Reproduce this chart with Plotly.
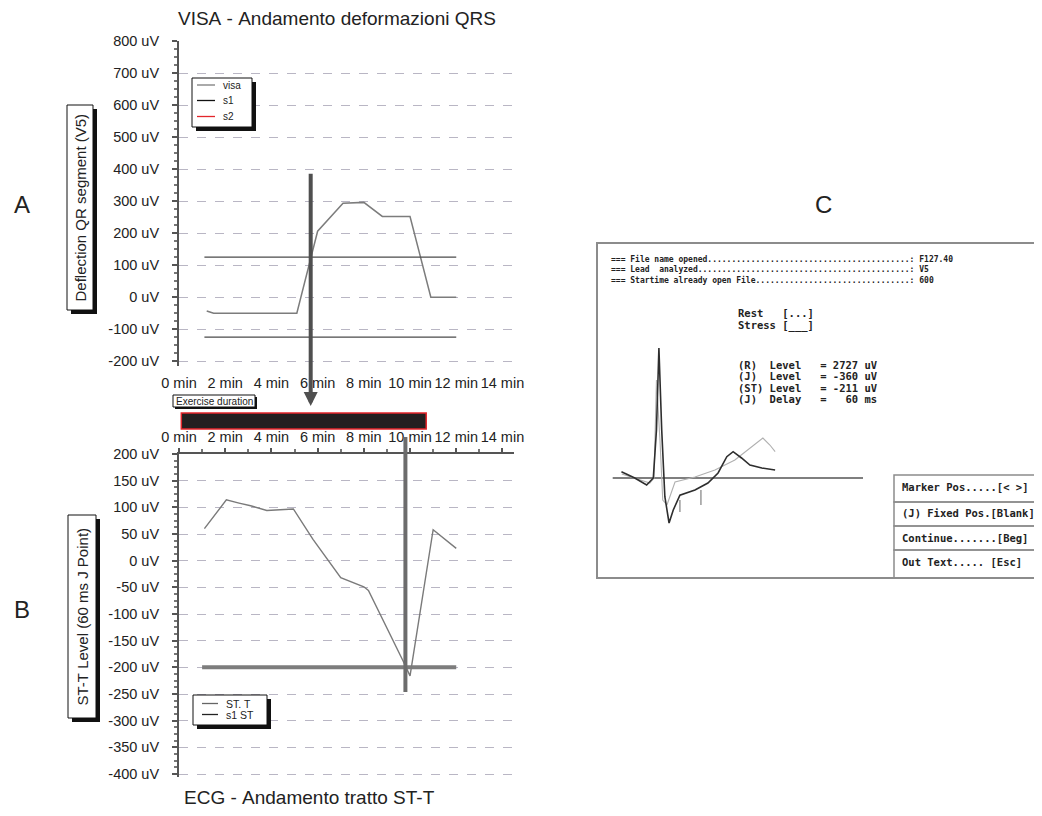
import plotly.graph_objects as go

W, H = 1042, 816
OX, OY = 8, 8  # page body margin in the viewer

# ---------------- Panel A: VISA QRS deflection ----------------
visa_min = [1.2, 1.5, 5.1, 6.0, 7.1, 8.0, 8.8, 10.0, 10.9, 12.0]
visa_uv = [-43, -50, -50, 206, 293, 296, 252, 252, 0, 0]
s1_min = [1.1, 12.0]
s1_upper_uv = 125
s1_lower_uv = -125
marker_a_min = 5.7
marker_a_top_uv = 390

# ---------------- Panel B: ST-T level ----------------
st_min = [1.1, 2.05, 2.6, 3.1, 3.8, 4.95, 5.8, 7.0, 8.0, 8.2, 9.7, 10.0, 11.0, 12.0]
st_uv = [60, 114, 108, 103, 94, 97, 40, -32, -49, -56, -188, -216, 58, 23]
s1st_min = [1.0, 12.0]
s1st_uv = -200
marker_b_min = 9.8

exercise_min = [0.1, 10.7]

minute_ticks = list(range(0, 15, 2))
minute_text = [f"{m} min" for m in minute_ticks]
a_ticks = list(range(-200, 801, 100))
a_text = [f"{v} uV" for v in a_ticks]
b_ticks = list(range(-400, 201, 50))
b_text = [f"{v} uV" for v in b_ticks]

# ---------------- Panel C: averaged ECG beat ----------------
beat_ms = [-107, -69, -35, -16, -7, 0, 8, 17, 29, 41, 60, 103, 140, 169, 194, 212, 236, 260, 294, 332]
beat_uv = [132, 0, -147, 0, 1008, 2727, 1008, -393, -945, -672, -360, -252, -105, 105, 447, 552, 420, 273, 210, 168]
ref_ms = [-106, -26, -14, -7, 3, 11, 23, 46, 103, 160, 217, 265, 297, 317, 332]
ref_uv = [84, -105, 0, 2058, 800, -462, -567, -84, 21, 168, 378, 657, 840, 693, 552]
baseline_ms = [-132, 583]
j_marks_ms = [60, 120]
j_marks_low_uv = [-714, -567]
j_marks_high_uv = [-462, -252]

file_info = [
    ("=== File name opened", "F127.40"),
    ("=== Lead  analyzed", "V5"),
    ("=== Startime already open File", "600"),
]
state_lines = ["Rest   [...]", "Stress [___]"]
level_lines = [
    "(R)  Level   = 2727 uV",
    "(J)  Level   = -360 uV",
    "(ST) Level   = -211 uV",
    "(J)  Delay   =   60 ms",
]
menu_lines = [
    "Marker Pos.....[< >]",
    "(J) Fixed Pos.[Blank]",
    "Continue.......[Beg]",
    "Out Text..... [Esc]",
]


def px(x):
    return (x - OX) / W


def py(y):
    return 1 - (y - OY) / H


def nb(s):
    return s.replace(" ", "\u00a0")


SANS = "Liberation Sans, Arial, sans-serif"
MONO = "DejaVu Sans Mono, monospace"
GRID = "#b9b6c4"
AX = "#555555"

fig = go.Figure()

# Panel A traces
fig.add_trace(go.Scatter(x=visa_min, y=visa_uv, mode="lines", xaxis="x", yaxis="y",
                         line=dict(color="#7c7c7c", width=1.5), name="visa"))
fig.add_trace(go.Scatter(x=s1_min + [None] + s1_min,
                         y=[s1_upper_uv] * 2 + [None] + [s1_lower_uv] * 2,
                         mode="lines", xaxis="x", yaxis="y",
                         line=dict(color="#4a4a4a", width=1.3), name="s1"))

# Panel B traces
fig.add_trace(go.Scatter(x=s1st_min, y=[s1st_uv] * 2, mode="lines", xaxis="x2", yaxis="y2",
                         line=dict(color="#7d7d7d", width=4), name="s1 ST"))
fig.add_trace(go.Scatter(x=st_min, y=st_uv, mode="lines", xaxis="x2", yaxis="y2",
                         line=dict(color="#7a7a7a", width=1.4), name="ST. T"))

# Panel C traces
fig.add_trace(go.Scatter(x=baseline_ms, y=[0, 0], mode="lines", xaxis="x3", yaxis="y3",
                         line=dict(color="#555555", width=1.5)))
fig.add_trace(go.Scatter(x=ref_ms, y=ref_uv, mode="lines", xaxis="x3", yaxis="y3",
                         line=dict(color="#b0b0b0", width=1.1)))
fig.add_trace(go.Scatter(x=beat_ms, y=beat_uv, mode="lines", xaxis="x3", yaxis="y3",
                         line=dict(color="#2e2e2e", width=1.6)))
jx, jy = [], []
for t, lo, hi in zip(j_marks_ms, j_marks_low_uv, j_marks_high_uv):
    jx += [t, t, None]
    jy += [lo, hi, None]
fig.add_trace(go.Scatter(x=jx, y=jy, mode="lines", xaxis="x3", yaxis="y3",
                         line=dict(color="#9a9a9a", width=1.5)))

shapes = []
annotations = []


def rect(x0, y0, x1, y1, fill, line_color="black", lw=1):
    shapes.append(dict(type="rect", xref="paper", yref="paper",
                       x0=px(x0), x1=px(x1), y0=py(y1), y1=py(y0),
                       fillcolor=fill, line=dict(color=line_color, width=lw), layer="above"))


def boxed(x0, y0, x1, y1, off=4):
    rect(x0 + off, y0 + off, x1 + off, y1 + off, "#111111", "#111111", 0)
    rect(x0, y0, x1, y1, "white", "#111111", 1)


def hline(x0, x1, y, color, w):
    shapes.append(dict(type="line", xref="paper", yref="paper",
                       x0=px(x0), x1=px(x1), y0=py(y), y1=py(y),
                       line=dict(color=color, width=w), layer="above"))


def text(x, y, s, size, font=SANS, xanchor="center", color="#222222", angle=0, bold=False):
    annotations.append(dict(x=px(x), y=py(y), xref="paper", yref="paper", text=nb(s),
                            showarrow=False, xanchor=xanchor, yanchor="middle", align="left",
                            textangle=angle, borderpad=0,
                            font=dict(size=size, family=font, color=color,
                                      weight="bold" if bold else "normal")))


# Exercise duration bar (in minutes on panel A axis)
shapes.append(dict(type="rect", xref="x", yref="paper",
                   x0=exercise_min[0], x1=exercise_min[1], y0=py(429), y1=py(413),
                   fillcolor="#231f20", line=dict(color="#e3262b", width=1.5), layer="above"))
boxed(173, 395, 255, 407, off=2)
text(214, 401, "Exercise duration", 10)

# Marker B vertical line
shapes.append(dict(type="line", xref="x2", yref="paper",
                   x0=marker_b_min, x1=marker_b_min, y0=py(692), y1=py(437),
                   line=dict(color="#6c6c6c", width=4), layer="above"))

# Marker A with arrow (tail at marker_a_top_uv on panel A scale)
a_top_px, a_bot_px, a_lo, a_hi = 41, 366, -215, 800
tail_px = a_top_px + (a_hi - marker_a_top_uv) / (a_hi - a_lo) * (a_bot_px - a_top_px)
head_px = 406
annotations.append(dict(x=marker_a_min, y=py(head_px), xref="x", yref="paper", text="",
                        showarrow=True, ax=0, ay=tail_px - head_px, axref="pixel", ayref="pixel",
                        arrowhead=2, arrowsize=0.7, arrowwidth=4, arrowcolor="#4f4f4f",
                        standoff=0, startstandoff=0))

# Legends
boxed(192, 78, 252, 127)
leg_a = [("visa", "#7c7c7c", 85), ("s1", "#111111", 100.5), ("s2", "#e3262b", 116.5)]
for name, col, yy in leg_a:
    hline(197, 215, yy, col, 1.3)
    text(222, yy, name, 10, xanchor="left")

boxed(193, 695, 267, 725)
leg_b = [("ST. T", "#666666", 703.5), ("s1 ST", "#222222", 714.5)]
for name, col, yy in leg_b:
    hline(202, 218, yy, col, 1.3)
    text(225, yy, name, 10.5, xanchor="left")

# Y-axis titles in shadowed boxes
boxed(67, 105, 93, 310)
text(80, 207.5, "Deflection QR segment (V5)", 15, angle=-90)
boxed(68, 515, 96, 718)
text(82, 616.5, "ST-T Level (60 ms J Point)", 15, angle=-90)

# Titles and panel letters
text(337, 19, "VISA - Andamento deformazioni QRS", 19)
text(309, 797, "ECG - Andamento tratto ST-T", 19)
text(22, 204, "A", 24)
text(22, 609, "B", 24)
text(823, 204, "C", 24)

# Panel C frame and menu
rect(597, 243, 1060, 578, "rgba(0,0,0,0)", "#8c8c8c", 2)
for y0, y1 in [(475, 502), (502, 526), (526, 550), (550, 578)]:
    rect(894, y0, 1060, y1, "rgba(0,0,0,0)", "#8c8c8c", 1.5)

info_rows = []
for label, val in file_info:
    dots = "." * (62 - len(label))
    info_rows.append(nb(f"{label}{dots}: {val}"))
annotations.append(dict(x=px(610), y=py(269.5), xref="paper", yref="paper",
                        text="<br>".join(info_rows), showarrow=False,
                        xanchor="left", yanchor="middle", align="left", borderpad=0,
                        font=dict(size=8, family=MONO, color="#222222", weight="bold")))
for i, s in enumerate(state_lines):
    text(737, 313 + i * 13, s, 10.5, font=MONO, xanchor="left", bold=True)
for i, s in enumerate(level_lines):
    text(737, 364.5 + i * 11.5, s, 10.5, font=MONO, xanchor="left", bold=True)
for s, yy in zip(menu_lines, [487, 513, 538, 562]):
    text(901, yy, s, 10.5, font=MONO, xanchor="left", bold=True)

tick_font = dict(size=14.5, family=SANS, color="#222222")

fig.update_layout(
    template="none",
    width=W, height=H,
    margin=dict(l=0, r=0, t=0, b=0, pad=0, autoexpand=False),
    paper_bgcolor="white", plot_bgcolor="white",
    showlegend=False, hovermode=False,
    shapes=shapes, annotations=annotations,
    xaxis=dict(domain=[px(179), px(514)], range=[0, 14.5], anchor="y", automargin=False,
               tickmode="array", tickvals=minute_ticks, ticktext=minute_text, tickangle=0,
               showline=False, ticks="", showgrid=False, zeroline=False,
               tickfont=tick_font, ticklabelstandoff=6),
    yaxis=dict(domain=[py(366), py(41)], range=[a_lo, a_hi], anchor="x", automargin=False,
               tickmode="array", tickvals=a_ticks, ticktext=a_text,
               showline=True, linecolor=AX, linewidth=2,
               ticks="outside", ticklen=5, tickcolor=AX, tickwidth=1.5,
               minor=dict(dtick=25, tick0=0, ticks="outside", ticklen=3, tickcolor="#777777", showgrid=False),
               showgrid=True, gridcolor=GRID, griddash="dash", gridwidth=1,
               zeroline=False, tickfont=tick_font, ticklabelstandoff=10),
    xaxis2=dict(domain=[px(179), px(514)], range=[0, 14.5], anchor="y2", side="top", automargin=False,
                tickmode="array", tickvals=minute_ticks, ticktext=minute_text, tickangle=0,
                showline=True, linecolor=AX, linewidth=2,
                ticks="outside", ticklen=4, tickcolor=AX, tickwidth=1.5,
                minor=dict(dtick=1, tick0=0, ticks="outside", ticklen=3, tickcolor="#777777", showgrid=False),
                showgrid=False, zeroline=False, tickfont=tick_font),
    yaxis2=dict(domain=[py(776.7), py(454)], range=[-405, 200], anchor="x2", automargin=False,
                tickmode="array", tickvals=b_ticks, ticktext=b_text,
                showline=True, linecolor=AX, linewidth=2,
                ticks="outside", ticklen=5, tickcolor=AX, tickwidth=1.5,
                minor=dict(dtick=12.5, tick0=0, ticks="outside", ticklen=3, tickcolor="#777777", showgrid=False),
                showgrid=True, gridcolor=GRID, griddash="dash", gridwidth=1,
                zeroline=False, tickfont=tick_font, ticklabelstandoff=10),
    xaxis3=dict(domain=[px(605), px(870)], range=[-154, 603], anchor="y3", visible=False),
    yaxis3=dict(domain=[py(530), py(340)], range=[-1092, 2898], anchor="x3", visible=False),
)

fig.write_html("out.html")
